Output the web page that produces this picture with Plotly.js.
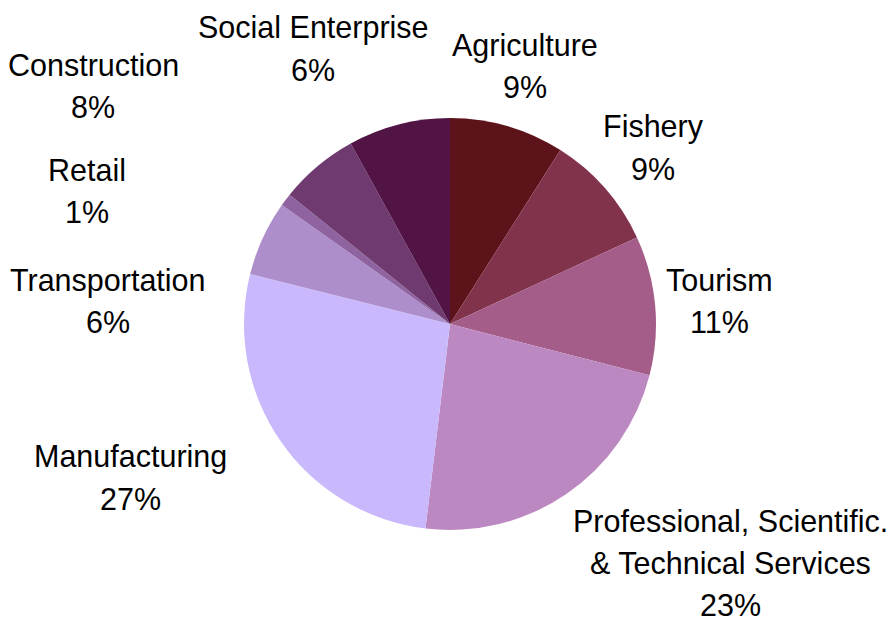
<!DOCTYPE html>
<html>
<head>
<meta charset="utf-8">
<script src="https://cdn.plot.ly/plotly-3.0.1.min.js"></script>
<style>html,body{margin:0;padding:0;background:#fff;}#chart{width:889px;height:617px;}</style>
</head>
<body>
<div id="chart"></div>
<script>
const sectors = ["Agriculture", "Fishery", "Tourism", "Professional, Scientific. & Technical Services", "Manufacturing", "Transportation", "Retail", "Social Enterprise", "Construction"];
const shares = [9.0, 9.1, 10.9, 22.9, 27.0, 5.9, 1.0, 6.2, 8.0];
const sliceColors = ["#5C131A", "#82334C", "#A45C89", "#BC88C1", "#C9B9FC", "#AD8ECA", "#8F63A0", "#6F3A6F", "#521445"];

// label placement (pixel centres of each label block)
const labelPos = [
  [525, 66.5], [653, 147.5], [719, 301], [730, 563], [130, 477.5],
  [108, 301], [87, 190.5], [313, 48.5], [93, 86]
];

const W = 889, H = 617, lineGap = 42;
const total = shares.reduce((a, b) => a + b, 0);
const annotations = [];
sectors.forEach((s, i) => {
  const lines = s.replace(" & ", "\n& ").split("\n");
  lines.push(Math.round(shares[i] / total * 100) + "%");
  const n = lines.length;
  lines.forEach((ln, k) => {
    const py = labelPos[i][1] + (k - (n - 1) / 2) * lineGap;
    annotations.push({
      text: ln,
      x: labelPos[i][0] / W, y: 1 - py / H,
      xref: "paper", yref: "paper", xanchor: "center", yanchor: "middle",
      showarrow: false, align: "center",
      font: {family: "Liberation Sans, Arial, sans-serif", size: 30.5, color: "#000"}
    });
  });
});

const cx = 450, cy = 324, r = 206;
const trace = {
  type: "pie",
  labels: sectors,
  values: shares,
  sort: false,
  direction: "clockwise",
  rotation: 0,
  textinfo: "none",
  hoverinfo: "label+percent",
  marker: {colors: sliceColors, line: {width: 0}},
  domain: {x: [(cx - r) / W, (cx + r) / W], y: [1 - (cy + r) / H, 1 - (cy - r) / H]},
  showlegend: false
};

Plotly.newPlot("chart", [trace], {
  width: W, height: H,
  margin: {l: 0, r: 0, t: 0, b: 0},
  paper_bgcolor: "#fff",
  showlegend: false,
  annotations: annotations
}, {displayModeBar: false, staticPlot: true});
</script>
</body>
</html>
